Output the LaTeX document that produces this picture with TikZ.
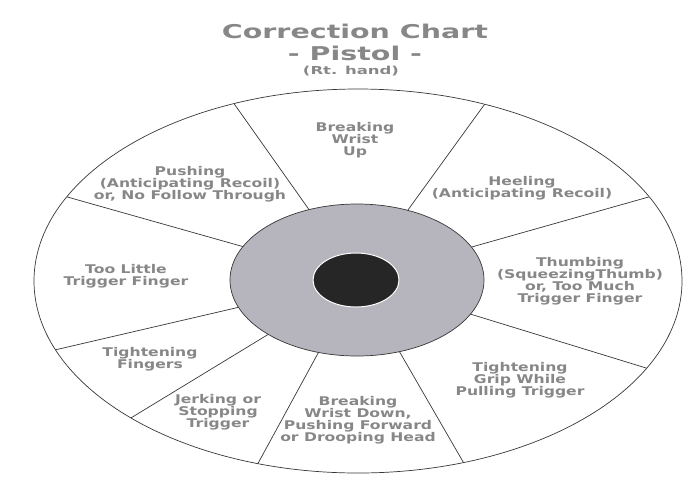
\documentclass[tikz,border=0pt]{standalone}
\usepackage{fontspec}
\setmainfont{DejaVu Sans}[FakeStretch=1.3]
\newfontfamily\titlefont{DejaVu Sans}[FakeStretch=1.5]
\begin{document}
\begin{tikzpicture}[x=1pt, y=-1pt, font=\bfseries\fontsize{12}{12}\selectfont,
    errtext/.style={align=center, text=textgray, inner sep=0pt},
    spoke/.style={draw=linegray, line width=0.7pt}]
  \definecolor{textgray}{RGB}{135,135,135}
  \definecolor{linegray}{RGB}{55,55,55}
  \definecolor{ringgray}{RGB}{182,180,188}
  \definecolor{bullblack}{RGB}{38,38,38}
  \useasboundingbox (0,0) rectangle (700,480);
  % title
  \node[errtext, font=\titlefont\bfseries\fontsize{19}{19}\selectfont] (title) at (355,31) {Correction Chart};
  \node[errtext, font=\titlefont\bfseries\fontsize{19}{19}\selectfont] (gun) at (355,53) {- Pistol -};
  \node[errtext, font=\titlefont\bfseries\fontsize{11}{11}\selectfont] (hand) at (351,71) {(Rt. hand)};
  % target
  \draw[spoke] (358,281) ellipse [x radius=324, y radius=192];
  \foreach \a in {112.5,67,26,-27,-71,-108,-134.5,-159,154}
    \draw[spoke] ({358+126*cos(\a)},{280-75*sin(\a)}) -- ({358+324*cos(\a)},{281-192*sin(\a)});
  \draw[spoke, fill=ringgray] (357,280) ellipse [x radius=127, y radius=76];
  \draw[draw=white, line width=1pt, fill=bullblack] (356,280) ellipse [x radius=43, y radius=27];
  % sectors
  \node[errtext] (wristup) at (355,140) {Breaking\\Wrist\\Up};
  \node[errtext] (heeling) at (522,188) {Heeling\\(Anticipating Recoil)};
  \node[errtext] (thumbing) at (580,281) {Thumbing\\(SqueezingThumb)\\or, Too Much\\Trigger Finger};
  \node[errtext] (grip) at (520,380) {Tightening\\Grip While\\Pulling Trigger};
  \node[errtext] (wristdown) at (358,420) {Breaking\\Wrist Down,\\Pushing Forward\\or Drooping Head};
  \node[errtext] (jerking) at (218,412) {Jerking or\\Stopping\\Trigger};
  \node[errtext] (fingers) at (150,359) {Tightening\\Fingers};
  \node[errtext] (toolittle) at (126,276) {Too Little\\Trigger Finger};
  \node[errtext] (pushing) at (190,184) {Pushing\\(Anticipating Recoil)\\or, No Follow Through};
\end{tikzpicture}
\end{document}
